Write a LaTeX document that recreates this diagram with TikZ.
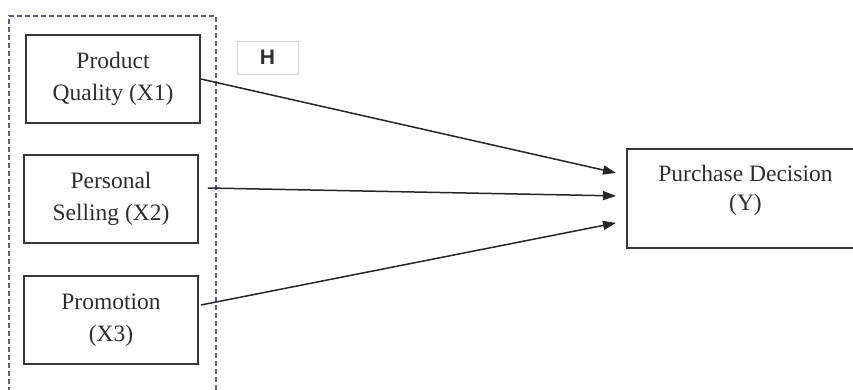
\documentclass[tikz,border=0pt]{standalone}
\usepackage{fontspec}
\setmainfont{Liberation Serif}
\newfontfamily\hfont{Liberation Sans}
\usetikzlibrary{arrows.meta,calc}
\definecolor{boxline}{RGB}{55,55,55}
\definecolor{txt}{RGB}{45,45,45}
\definecolor{dashc}{RGB}{95,95,125}
\definecolor{hline}{RGB}{215,215,215}
\tikzset{
  varbox/.style={draw=boxline, line width=1.8pt, minimum width=174pt, minimum height=88pt,
    inner sep=0pt, align=center, font=\fontsize{23.5}{32}\selectfont, text=txt},
  link/.style={draw=black!85, line width=1.5pt, -{Triangle[length=13pt,width=9pt]}},
}
\begin{document}
\begin{tikzpicture}[x=1pt,y=-1pt]
\useasboundingbox (0,0) rectangle (853,389);
\begin{scope}
\clip (0,0) rectangle (853,389);
\draw[dashc, line width=1.2pt, dash pattern=on 5pt off 3pt] (9,400) -- (9,16) -- (216,16) -- (216,400);
\node[varbox] (b1) at (113,79) {Product\\Quality (X1)};
\node[varbox] (b2) at (111,199) {Personal\\Selling (X2)};
\node[varbox] (b3) at (111,320) {Promotion\\(X3)};
\node[varbox, minimum width=239pt, minimum height=99pt, anchor=north west] (y) at (626,148) {};
\node[font=\fontsize{23.5}{29}\selectfont, text=txt, align=center] (ylab) at (745.5,190) {Purchase Decision\\(Y)};
\node[draw=hline, line width=1pt, minimum width=61pt, minimum height=33pt, inner sep=0pt, font=\hfont\bfseries\fontsize{21}{21}\selectfont, text=txt] (h) at (267.5,57.5) {H};
\coordinate (t1) at ($(y.west)+(-10,-25.5)$);
\coordinate (t2) at ($(y.west)+(-10,-2.5)$);
\coordinate (t3) at ($(y.west)+(-10,24.5)$);
\coordinate (s2) at ($(b2.east)+(9,-11)$);
\coordinate (s3) at ($(b3.east)+(2,-15)$);
\draw[link] (b1.east) -- (t1);
\draw[link] (s2) -- (t2);
\draw[link] (s3) -- (t3);
\end{scope}
\end{tikzpicture}
\end{document}
